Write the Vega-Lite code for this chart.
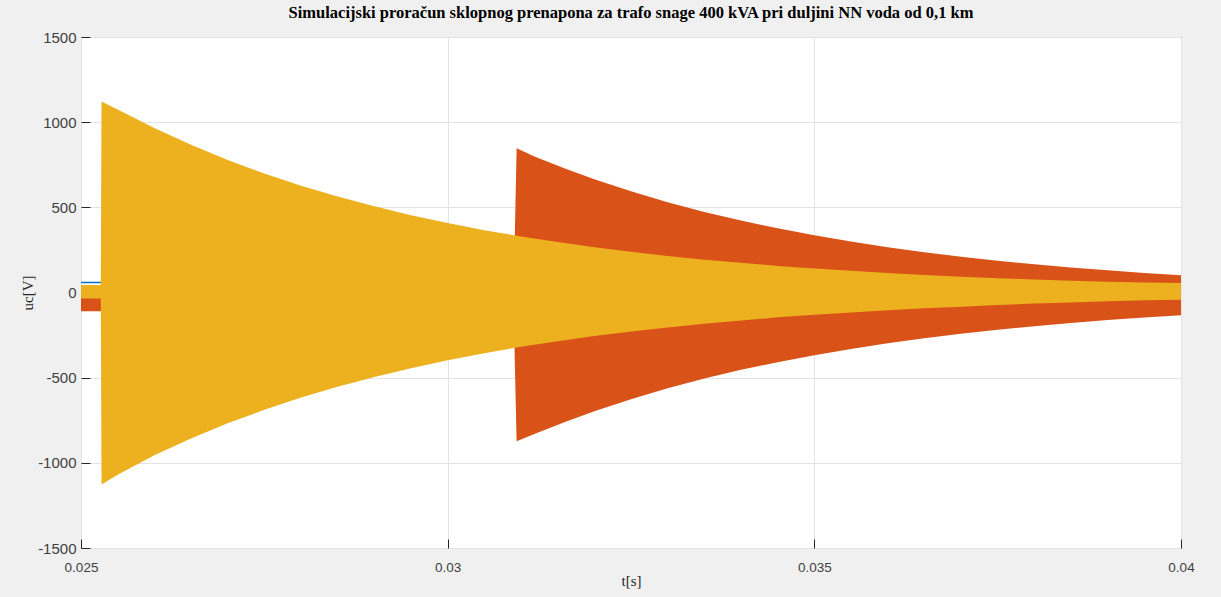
{
  "$schema": "https://vega.github.io/schema/vega-lite/v6.json",
  "autosize": "none",
  "width": 1100,
  "height": 511,
  "padding": {"left": 81, "top": 37, "right": 40, "bottom": 49},
  "background": "#f0f0f0",
  "title": {
    "text": "Simulacijski proračun sklopnog prenapona za trafo snage 400 kVA pri duljini NN voda od 0,1 km",
    "font": "Liberation Serif",
    "fontSize": 16.5,
    "fontWeight": "bold",
    "color": "#000000",
    "anchor": "middle",
    "offset": 9
  },
  "config": {
    "view": {"fill": "#ffffff", "stroke": "#3a3a3a", "strokeWidth": 1},
    "axis": {
      "labelFont": "Liberation Sans",
      "labelFontSize": 13,
      "labelColor": "#404040",
      "titleFont": "Liberation Serif",
      "titleFontSize": 15,
      "titleFontWeight": "normal",
      "titleColor": "#262626",
      "gridColor": "#e3e3e3",
      "gridWidth": 1,
      "domain": false,
      "tickColor": "#262626",
      "tickSize": -9
    }
  },
  "data": {
    "values": [
      {"s": "blue", "t": 0.025, "hi": 63, "lo": 54},
      {"s": "blue", "t": 0.02528, "hi": 63, "lo": 54},
      {"s": "blue", "t": 0.0253, "hi": 20, "lo": -20},
      {"s": "blue", "t": 0.04, "hi": 20, "lo": -20},

      {"s": "red", "t": 0.025, "hi": 0, "lo": -110},
      {"s": "red", "t": 0.0309, "hi": 0, "lo": -110},
      {"s": "red", "t": 0.03094, "hi": 847, "lo": -873},
      {"s": "red", "t": 0.0312, "hi": 796, "lo": -828},
      {"s": "red", "t": 0.0316, "hi": 728, "lo": -760},
      {"s": "red", "t": 0.032, "hi": 665, "lo": -697},
      {"s": "red", "t": 0.0325, "hi": 594, "lo": -626},
      {"s": "red", "t": 0.033, "hi": 530, "lo": -562},
      {"s": "red", "t": 0.0335, "hi": 473, "lo": -505},
      {"s": "red", "t": 0.034, "hi": 422, "lo": -454},
      {"s": "red", "t": 0.0345, "hi": 377, "lo": -409},
      {"s": "red", "t": 0.035, "hi": 336, "lo": -368},
      {"s": "red", "t": 0.0355, "hi": 299, "lo": -331},
      {"s": "red", "t": 0.036, "hi": 266, "lo": -298},
      {"s": "red", "t": 0.0365, "hi": 237, "lo": -269},
      {"s": "red", "t": 0.037, "hi": 210, "lo": -242},
      {"s": "red", "t": 0.0375, "hi": 187, "lo": -219},
      {"s": "red", "t": 0.038, "hi": 166, "lo": -198},
      {"s": "red", "t": 0.0385, "hi": 147, "lo": -179},
      {"s": "red", "t": 0.039, "hi": 130, "lo": -162},
      {"s": "red", "t": 0.0395, "hi": 115, "lo": -147},
      {"s": "red", "t": 0.04, "hi": 101, "lo": -133},

      {"s": "yellow", "t": 0.025, "hi": 44, "lo": -35},
      {"s": "yellow", "t": 0.02527, "hi": 44, "lo": -35},
      {"s": "yellow", "t": 0.02528, "hi": 1121, "lo": -1127},
      {"s": "yellow", "t": 0.0255, "hi": 1074, "lo": -1070},
      {"s": "yellow", "t": 0.026, "hi": 966, "lo": -956},
      {"s": "yellow", "t": 0.0265, "hi": 867, "lo": -857},
      {"s": "yellow", "t": 0.027, "hi": 778, "lo": -768},
      {"s": "yellow", "t": 0.0275, "hi": 699, "lo": -689},
      {"s": "yellow", "t": 0.028, "hi": 627, "lo": -617},
      {"s": "yellow", "t": 0.0285, "hi": 563, "lo": -553},
      {"s": "yellow", "t": 0.029, "hi": 506, "lo": -496},
      {"s": "yellow", "t": 0.0295, "hi": 454, "lo": -444},
      {"s": "yellow", "t": 0.03, "hi": 408, "lo": -398},
      {"s": "yellow", "t": 0.0305, "hi": 366, "lo": -356},
      {"s": "yellow", "t": 0.031, "hi": 329, "lo": -319},
      {"s": "yellow", "t": 0.0315, "hi": 296, "lo": -286},
      {"s": "yellow", "t": 0.032, "hi": 266, "lo": -256},
      {"s": "yellow", "t": 0.0325, "hi": 239, "lo": -229},
      {"s": "yellow", "t": 0.033, "hi": 215, "lo": -205},
      {"s": "yellow", "t": 0.0335, "hi": 193, "lo": -183},
      {"s": "yellow", "t": 0.034, "hi": 174, "lo": -164},
      {"s": "yellow", "t": 0.0345, "hi": 156, "lo": -146},
      {"s": "yellow", "t": 0.035, "hi": 141, "lo": -131},
      {"s": "yellow", "t": 0.0355, "hi": 127, "lo": -117},
      {"s": "yellow", "t": 0.036, "hi": 114, "lo": -104},
      {"s": "yellow", "t": 0.0365, "hi": 103, "lo": -93},
      {"s": "yellow", "t": 0.037, "hi": 93, "lo": -83},
      {"s": "yellow", "t": 0.0375, "hi": 84, "lo": -73},
      {"s": "yellow", "t": 0.038, "hi": 76, "lo": -65},
      {"s": "yellow", "t": 0.0385, "hi": 69, "lo": -58},
      {"s": "yellow", "t": 0.039, "hi": 63, "lo": -51},
      {"s": "yellow", "t": 0.0395, "hi": 58, "lo": -45},
      {"s": "yellow", "t": 0.04, "hi": 56, "lo": -42}
    ]
  },
  "encoding": {
    "x": {
      "field": "t",
      "type": "quantitative",
      "scale": {"domain": [0.025, 0.04], "nice": false, "zero": false},
      "axis": {
        "title": "t[s]",
        "values": [0.025, 0.03, 0.035, 0.04],
        "format": "~g",
        "labelFontSize": 13.5,
        "labelPadding": 21,
        "titlePadding": 0,
        "labelFlush": false
      }
    },
    "y": {
      "field": "hi",
      "type": "quantitative",
      "scale": {"domain": [-1500, 1500], "nice": false, "zero": false},
      "axis": {
        "title": "uc[V]",
        "values": [-1500, -1000, -500, 0, 500, 1000, 1500],
        "format": "d",
        "labelExpr": "replace(datum.label, '\u2212', '-')",
        "labelFontSize": 15,
        "labelPadding": 14,
        "titlePadding": 2
      }
    },
    "y2": {"field": "lo"},
    "color": {
      "field": "s",
      "type": "nominal",
      "scale": {"domain": ["blue", "red", "yellow"], "range": ["#0072BD", "#D95319", "#EDB120"]},
      "legend": null
    }
  },
  "layer": [
    {"transform": [{"filter": "datum.s === 'blue'"}], "mark": {"type": "area", "opacity": 1}},
    {"transform": [{"filter": "datum.s === 'red'"}], "mark": {"type": "area", "opacity": 1}},
    {"transform": [{"filter": "datum.s === 'yellow'"}], "mark": {"type": "area", "opacity": 1}}
  ]
}
